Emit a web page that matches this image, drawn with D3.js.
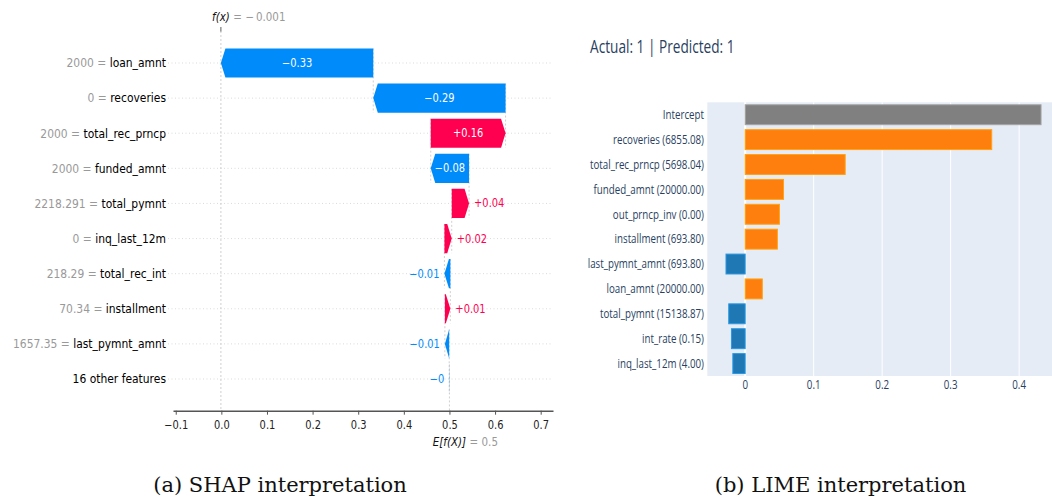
<!DOCTYPE html>
<html>
<head>
<meta charset="utf-8">
<script src="https://cdn.jsdelivr.net/npm/d3@7"></script>
<style>
  body { margin: 0; background: #fff; }
  svg { display: block; }
</style>
</head>
<body>
<svg id="chart" width="1052" height="501"></svg>
<script>
// ---------------- SHAP waterfall data (top row first) ----------------
const shapFeatures = ["loan_amnt", "recoveries", "total_rec_prncp", "funded_amnt", "total_pymnt",
  "inq_last_12m", "total_rec_int", "installment", "last_pymnt_amnt", "16 other features"];
const shapFeatureValues = ["2000", "0", "2000", "2000", "2218.291", "0", "218.29", "70.34", "1657.35", ""];
const shapValues = [-0.334, -0.290, 0.164, -0.084, 0.038, 0.016, -0.013, 0.012, -0.0095, -0.0005];
const shapBaseValue = 0.5;
const shapTicks = [-0.1, 0.0, 0.1, 0.2, 0.3, 0.4, 0.5, 0.6, 0.7];

// ---------------- LIME explanation data ----------------
const limeFeatures = ["Intercept", "recoveries (6855.08)", "total_rec_prncp (5698.04)", "funded_amnt (20000.00)",
  "out_prncp_inv (0.00)", "installment (693.80)", "last_pymnt_amnt (693.80)", "loan_amnt (20000.00)",
  "total_pymnt (15138.87)", "int_rate (0.15)", "inq_last_12m (4.00)"];
const limeWeights = [0.432, 0.360, 0.146, 0.056, 0.050, 0.047, -0.028, 0.025, -0.024, -0.020, -0.018];
const limeTicks = [0, 0.1, 0.2, 0.3, 0.4];
const limeTitle = "Actual: 1 | Predicted: 1";

const svg = d3.select("#chart");

// Text helper: narrow glyphs via a horizontal scale around the anchor point
function sText(parent, x, y, sx, opts) {
  const t = parent.append("text")
    .attr("transform", `translate(${x},${y}) scale(${sx},1)`)
    .attr("text-anchor", opts.anchor || "start")
    .attr("font-family", opts.family)
    .attr("font-size", opts.size)
    .attr("fill", opts.fill || "#000");
  if (opts.style) t.attr("font-style", opts.style);
  if (opts.text !== undefined) t.text(opts.text);
  return t;
}

// =====================================================================
// SHAP waterfall
// =====================================================================
const sans = "'DejaVu Sans', sans-serif";
const shapSx = 0.86;
const blue = "#008bfb", red = "#ff0051";
const n = shapFeatures.length;

// accumulate from the base value upwards (bottom row first)
const rows = new Array(n);
let cum = shapBaseValue;
for (let i = n - 1; i >= 0; i--) {
  const start = cum, end = cum + shapValues[i];
  rows[i] = { i, feature: shapFeatures[i], fval: shapFeatureValues[i], value: shapValues[i], start, end };
  cum = end;
}
const fx = cum;

const xS = d3.scaleLinear().domain([-0.106, 0.727]).range([173, 553]);
const yS = d3.scalePoint().domain(d3.range(n)).range([63, 379]);
const barH = yS.step() * 0.83;
const axisY = 410.7;

const shap = svg.append("g");

// row grid lines
shap.append("g").selectAll("line").data(rows).join("line")
  .attr("x1", 168).attr("x2", 553)
  .attr("y1", d => yS(d.i)).attr("y2", d => yS(d.i))
  .attr("stroke", "#cccccc").attr("stroke-width", 0.7).attr("stroke-dasharray", "1,2.5");

// f(x) reference line and base value line
shap.append("line")
  .attr("x1", xS(fx)).attr("x2", xS(fx)).attr("y1", 31).attr("y2", axisY)
  .attr("stroke", "#bbbbbb").attr("stroke-width", 0.7).attr("stroke-dasharray", "2,2");
shap.append("line")
  .attr("x1", xS(fx)).attr("x2", xS(fx)).attr("y1", 27).attr("y2", 31.5)
  .attr("stroke", "#333").attr("stroke-width", 0.8);
shap.append("line")
  .attr("x1", xS(shapBaseValue)).attr("x2", xS(shapBaseValue))
  .attr("y1", yS(n - 1) - barH / 2).attr("y2", axisY)
  .attr("stroke", "#bbbbbb").attr("stroke-width", 0.7).attr("stroke-dasharray", "2,2");

// connectors between consecutive bars
shap.append("g").selectAll("line").data(rows.slice(0, n - 1)).join("line")
  .attr("x1", d => xS(d.start)).attr("x2", d => xS(d.start))
  .attr("y1", d => yS(d.i) - barH / 2).attr("y2", d => yS(d.i + 1) + barH / 2)
  .attr("stroke", "#bbbbbb").attr("stroke-width", 0.7).attr("stroke-dasharray", "2,2");

// arrow-shaped bars
const headLen = 4.5;
function arrowPath(d) {
  const s = xS(d.start), e = xS(d.end), y = yS(d.i), h = barH / 2;
  const dir = e >= s ? 1 : -1;
  const hl = Math.min(Math.abs(e - s), headLen);
  const b = e - dir * hl;
  return `M${s},${y - h}L${b},${y - h}L${e},${y}L${b},${y + h}L${s},${y + h}Z`;
}
shap.append("g").selectAll("path").data(rows).join("path")
  .attr("d", arrowPath)
  .attr("fill", d => d.value >= 0 ? red : blue);

// value labels: inside the bar when they fit, otherwise beside it
const fmtShap = v => d3.format("+.2f")(v).replace(/\.?0+$/, "");
const valG = shap.append("g");
rows.forEach(d => {
  const s = xS(d.start), e = xS(d.end), y = yS(d.i) + 4;
  const probe = sText(valG, 0, y, shapSx, { family: sans, size: 11.5, text: fmtShap(d.value) });
  const w = probe.node().getComputedTextLength() * shapSx;
  probe.remove();
  if (w + 6 < Math.abs(e - s)) {
    sText(valG, (s + e) / 2, y, shapSx, { family: sans, size: 11.5, anchor: "middle", fill: "#fff", text: fmtShap(d.value) });
  } else if (d.value >= 0) {
    sText(valG, e + 5, y, shapSx, { family: sans, size: 11.5, anchor: "start", fill: red, text: fmtShap(d.value) });
  } else {
    sText(valG, e - 5, y, shapSx, { family: sans, size: 11.5, anchor: "end", fill: blue, text: fmtShap(d.value) });
  }
});

// row labels
const labG = shap.append("g");
rows.forEach(d => {
  const t = sText(labG, 166, yS(d.i) + 4.3, shapSx, { family: sans, size: 12.5, anchor: "end" });
  t.append("tspan").attr("fill", "#999").text(d.fval ? d.fval + " = " : "");
  t.append("tspan").attr("fill", "#000").text(d.feature);
});

// bottom axis
const xAxis = d3.axisBottom(xS).tickValues(shapTicks).tickFormat(d3.format(".1f"))
  .tickSize(4).tickSizeOuter(0).tickPadding(6);
const ax = shap.append("g").attr("transform", `translate(0,${axisY})`).call(xAxis);
ax.select(".domain").attr("stroke", "#555").attr("stroke-width", 1.6);
ax.selectAll(".tick line").attr("stroke", "#555");
ax.selectAll(".tick text")
  .attr("font-family", sans).attr("font-size", 11.5).attr("fill", "#222")
  .attr("transform", `scale(${shapSx},1)`)
  .attr("x", 0);

// f(x) and E[f(X)] annotations
function mathLabel(xc, y, mathTxt, rest) {
  const g = shap.append("g");
  const m = sText(g, xc, y, shapSx, { family: sans, size: 12, anchor: "middle", style: "italic", fill: "#111", text: mathTxt });
  const w = m.node().getComputedTextLength() * shapSx;
  sText(g, xc + w / 2 + 3.5, y, shapSx, { family: sans, size: 12, fill: "#999", text: rest });
}
mathLabel(xS(fx), 21, "f(x)", "= " + d3.format(".3f")(fx).replace("\u2212", "\u2212\u2009"));
mathLabel(xS(shapBaseValue), 445.5, "E[f(X)]", "= " + d3.format(".1f")(shapBaseValue));

// =====================================================================
// LIME bar chart
// =====================================================================
const limeFont = "'Open Sans', sans-serif";
const limeSx = 0.78;
const textColor = "#2a3f5f";
const plotTop = 102.3, plotBottom = 376, plotLeft = 707.3, plotRight = 1052;

const lx = d3.scaleLinear().domain([-0.0553, 0.448]).range([plotLeft, plotRight]);
const ly = d3.scaleBand().domain(limeFeatures).range([plotTop, plotBottom])
  .paddingInner(0.2).paddingOuter(0.1);

const lime = svg.append("g");
lime.append("rect").attr("x", plotLeft).attr("y", plotTop)
  .attr("width", plotRight - plotLeft).attr("height", plotBottom - plotTop).attr("fill", "#e5ecf6");

lime.append("g").selectAll("line").data(limeTicks.filter(t => t !== 0)).join("line")
  .attr("x1", d => lx(d)).attr("x2", d => lx(d)).attr("y1", plotTop).attr("y2", plotBottom)
  .attr("stroke", "#fff").attr("stroke-width", 1);
lime.append("line").attr("x1", lx(0)).attr("x2", lx(0)).attr("y1", plotTop).attr("y2", plotBottom)
  .attr("stroke", "#fff").attr("stroke-width", 2);

function limeColor(name, w) {
  if (name === "Intercept") return "#808080";
  return w >= 0 ? "#ff7f0e" : "#1f77b4";
}
lime.append("g").selectAll("rect").data(limeFeatures).join("rect")
  .attr("x", (d, i) => lx(Math.min(0, limeWeights[i])))
  .attr("width", (d, i) => Math.abs(lx(limeWeights[i]) - lx(0)))
  .attr("y", d => ly(d)).attr("height", ly.bandwidth())
  .attr("fill", (d, i) => limeColor(d, limeWeights[i]))
  .attr("stroke", (d, i) => d3.color(limeColor(d, limeWeights[i])).brighter(0.7))
  .attr("stroke-width", 1);

const limeOpts = (txt, anchor, size) => ({ family: limeFont, size, anchor, fill: textColor, text: txt });
// category labels
limeFeatures.forEach(f => sText(lime, 704, ly(f) + ly.bandwidth() / 2 + 4.3, limeSx, limeOpts(f, "end", 12.5)));
// x tick labels
limeTicks.forEach(t => sText(lime, lx(t), 388.5, limeSx, limeOpts(t === 0 ? "0" : d3.format(".1f")(t), "middle", 12.5)));
// title
sText(lime, 590, 52.5, limeSx, limeOpts(limeTitle, "start", 17.5));

// =====================================================================
// Sub-figure captions
// =====================================================================
const serif = "'DejaVu Serif', serif";
svg.append("text").attr("x", 280).attr("y", 491.5).attr("text-anchor", "middle")
  .attr("font-family", serif).attr("font-size", 21).attr("fill", "#111").text("(a) SHAP interpretation");
svg.append("text").attr("x", 840.5).attr("y", 491.5).attr("text-anchor", "middle")
  .attr("font-family", serif).attr("font-size", 21).attr("fill", "#111").text("(b) LIME interpretation");
</script>
</body>
</html>
